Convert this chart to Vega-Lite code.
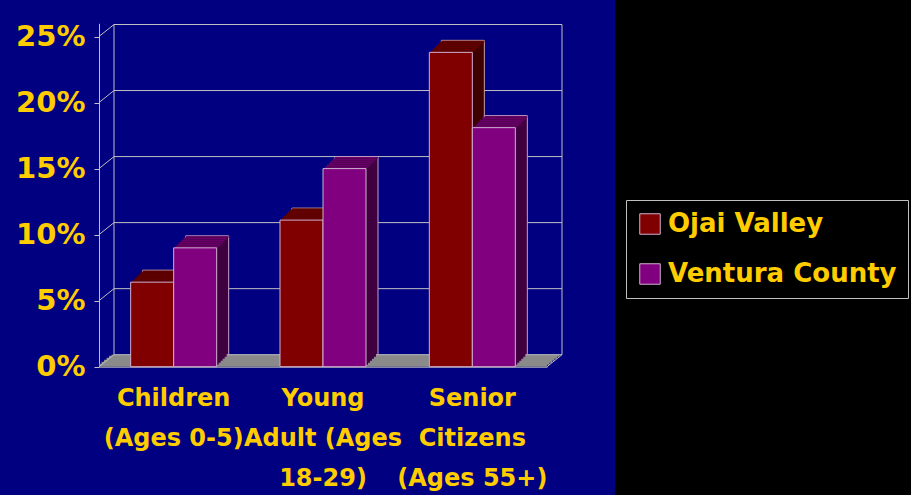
{
  "$schema": "https://vega.github.io/schema/vega-lite/v6.json",
  "width": 615,
  "height": 495,
  "autosize": "none",
  "padding": {"left": 0, "top": 0, "right": 296, "bottom": 0},
  "background": "#000000",
  "config": {"font": "DejaVu Sans", "view": {"fill": "#000080", "stroke": null}},
  "datasets": {
    "bars": [
      {"group": "Children\n(Ages 0-5)", "series": "Ojai Valley", "pct": 0.064},
      {"group": "Children\n(Ages 0-5)", "series": "Ventura County", "pct": 0.090},
      {"group": "Young\nAdult (Ages\n18-29)", "series": "Ojai Valley", "pct": 0.111},
      {"group": "Young\nAdult (Ages\n18-29)", "series": "Ventura County", "pct": 0.150},
      {"group": "Senior\nCitizens\n(Ages 55+)", "series": "Ojai Valley", "pct": 0.238},
      {"group": "Senior\nCitizens\n(Ages 55+)", "series": "Ventura County", "pct": 0.181}
    ],
    "grid": [{"v": 0}, {"v": 0.05}, {"v": 0.1}, {"v": 0.15}, {"v": 0.2}, {"v": 0.25}]
  },
  "layer": [
    {
      "data": {"values": [{}]},
      "layer": [
        {"mark": {"type": "rect", "fill": "#8a8a8a", "xOffset": 0, "x2Offset": 0, "yOffset": 0, "y2Offset": -3},
         "encoding": {"x": {"datum": 0, "type": "quantitative", "scale": {"domain": [0, 3], "range": [99, 547]},
                            "axis": {"orient": "bottom", "offset": -128.3, "values": [0, 1, 2, 3], "labels": false, "domain": false, "ticks": true, "tickSize": 5, "tickColor": "#C0C0C0", "grid": false, "title": null}},
                      "x2": {"datum": 3}, "y": {"datum": 0, "type": "quantitative", "axis": null}, "y2": {"datum": 0}}},
        {"mark": {"type": "rect", "fill": "#8a8a8a", "xOffset": 2.5, "x2Offset": 2.5, "yOffset": -2, "y2Offset": -5},
         "encoding": {"x": {"datum": 0, "type": "quantitative", "axis": null}, "x2": {"datum": 3}, "y": {"datum": 0, "type": "quantitative", "axis": null}, "y2": {"datum": 0}}},
        {"mark": {"type": "rect", "fill": "#8a8a8a", "xOffset": 5, "x2Offset": 5, "yOffset": -4, "y2Offset": -7},
         "encoding": {"x": {"datum": 0, "type": "quantitative", "axis": null}, "x2": {"datum": 3}, "y": {"datum": 0, "type": "quantitative", "axis": null}, "y2": {"datum": 0}}},
        {"mark": {"type": "rect", "fill": "#8a8a8a", "xOffset": 7.5, "x2Offset": 7.5, "yOffset": -6, "y2Offset": -9},
         "encoding": {"x": {"datum": 0, "type": "quantitative", "axis": null}, "x2": {"datum": 3}, "y": {"datum": 0, "type": "quantitative", "axis": null}, "y2": {"datum": 0}}},
        {"mark": {"type": "rect", "fill": "#8a8a8a", "xOffset": 10, "x2Offset": 10, "yOffset": -8, "y2Offset": -11},
         "encoding": {"x": {"datum": 0, "type": "quantitative", "axis": null}, "x2": {"datum": 3}, "y": {"datum": 0, "type": "quantitative", "axis": null}, "y2": {"datum": 0}}},
        {"mark": {"type": "rect", "fill": "#8a8a8a", "xOffset": 12.5, "x2Offset": 12.5, "yOffset": -10, "y2Offset": -12},
         "encoding": {"x": {"datum": 0, "type": "quantitative", "axis": null}, "x2": {"datum": 3}, "y": {"datum": 0, "type": "quantitative", "axis": null}, "y2": {"datum": 0}}},
        {"data": {"name": "grid"},
         "mark": {"type": "rule", "color": "#C0C0C0", "strokeWidth": 1, "xOffset": 15, "x2Offset": 15, "yOffset": -12},
         "encoding": {"x": {"datum": 0, "type": "quantitative", "axis": null}, "x2": {"datum": 3}, "y": {"field": "v", "type": "quantitative", "axis": null}}},
        {"data": {"name": "grid"},
         "mark": {"type": "rule", "color": "#C0C0C0", "strokeWidth": 1, "x2Offset": 15, "y2Offset": -12},
         "encoding": {"x": {"datum": 0, "type": "quantitative", "axis": null}, "x2": {"datum": 0}, "y": {"field": "v", "type": "quantitative", "axis": null}, "y2": {"field": "v"}}},
        {"mark": {"type": "rule", "color": "#C0C0C0", "strokeWidth": 1, "xOffset": 15, "yOffset": -12, "y2Offset": -12},
         "encoding": {"x": {"datum": 0, "type": "quantitative", "axis": null}, "y": {"datum": 0, "type": "quantitative", "axis": null}, "y2": {"datum": 0.25}}},
        {"mark": {"type": "rule", "color": "#C0C0C0", "strokeWidth": 1, "xOffset": 15, "yOffset": -12, "y2Offset": -12},
         "encoding": {"x": {"datum": 3, "type": "quantitative", "axis": null}, "y": {"datum": 0, "type": "quantitative", "axis": null}, "y2": {"datum": 0.25}}},
        {"mark": {"type": "rule", "color": "#C0C0C0", "strokeWidth": 1, "x2Offset": 15, "y2Offset": -12},
         "encoding": {"x": {"datum": 3, "type": "quantitative", "axis": null}, "x2": {"datum": 3}, "y": {"datum": 0, "type": "quantitative", "axis": null}, "y2": {"datum": 0}}}
      ]
    },
    {
      "data": {"name": "bars"},
      "encoding": {
        "x": {"field": "group", "type": "nominal", "sort": null,
              "scale": {"range": [99, 547], "paddingInner": 0, "paddingOuter": 0},
              "axis": {"orient": "bottom", "offset": -128.3, "ticks": false, "domain": true, "domainColor": "#C0C0C0", "grid": false, "title": null,
                       "labelExpr": "split(datum.label, '\\n')", "labelFontSize": 24, "labelFontWeight": "bold", "labelColor": "#FFCC00",
                       "labelLineHeight": 40, "labelPadding": 20, "labelAngle": 0, "labelOverlap": false, "labelLimit": 400}},
        "y": {"field": "pct", "type": "quantitative",
              "scale": {"domain": [0, 0.25], "range": [366.7, 23.3]},
              "axis": {"orient": "left", "offset": -99, "values": [0, 0.05, 0.1, 0.15, 0.2, 0.25], "format": ".0%", "tickSize": 5,
                       "tickColor": "#C0C0C0", "domainColor": "#C0C0C0", "labelFontSize": 29, "labelFontWeight": "bold",
                       "labelColor": "#FFCC00", "labelPadding": 9, "grid": false, "title": null}}
      },
      "layer": [
        {"transform": [{"filter": "datum.series === 'Ojai Valley'"}], "mark": {"type": "bar", "width": 43, "fill": "#400000", "stroke": "#C8A0A0", "strokeWidth": 1, "xOffset": -9.5, "yOffset": -12, "y2Offset": -12}, "encoding": {"y2": {"datum": 0}}},
        {"transform": [{"filter": "datum.series === 'Ojai Valley'"}], "mark": {"type": "bar", "width": 43, "fill": "#600000", "xOffset": -9.5, "yOffset": -11.5, "y2Offset": -10}, "encoding": {"y2": {"field": "pct"}}},
        {"transform": [{"filter": "datum.series === 'Ojai Valley'"}], "mark": {"type": "bar", "width": 43, "fill": "#400000", "xOffset": -11.5, "yOffset": -10, "y2Offset": -10}, "encoding": {"y2": {"datum": 0}}},
        {"transform": [{"filter": "datum.series === 'Ojai Valley'"}], "mark": {"type": "bar", "width": 43, "fill": "#600000", "xOffset": -11.5, "yOffset": -10, "y2Offset": -8}, "encoding": {"y2": {"field": "pct"}}},
        {"transform": [{"filter": "datum.series === 'Ojai Valley'"}], "mark": {"type": "bar", "width": 43, "fill": "#400000", "xOffset": -13.5, "yOffset": -8, "y2Offset": -8}, "encoding": {"y2": {"datum": 0}}},
        {"transform": [{"filter": "datum.series === 'Ojai Valley'"}], "mark": {"type": "bar", "width": 43, "fill": "#600000", "xOffset": -13.5, "yOffset": -8, "y2Offset": -6}, "encoding": {"y2": {"field": "pct"}}},
        {"transform": [{"filter": "datum.series === 'Ojai Valley'"}], "mark": {"type": "bar", "width": 43, "fill": "#400000", "xOffset": -15.5, "yOffset": -6, "y2Offset": -6}, "encoding": {"y2": {"datum": 0}}},
        {"transform": [{"filter": "datum.series === 'Ojai Valley'"}], "mark": {"type": "bar", "width": 43, "fill": "#600000", "xOffset": -15.5, "yOffset": -6, "y2Offset": -4}, "encoding": {"y2": {"field": "pct"}}},
        {"transform": [{"filter": "datum.series === 'Ojai Valley'"}], "mark": {"type": "bar", "width": 43, "fill": "#400000", "xOffset": -17.5, "yOffset": -4, "y2Offset": -4}, "encoding": {"y2": {"datum": 0}}},
        {"transform": [{"filter": "datum.series === 'Ojai Valley'"}], "mark": {"type": "bar", "width": 43, "fill": "#600000", "xOffset": -17.5, "yOffset": -4, "y2Offset": -2}, "encoding": {"y2": {"field": "pct"}}},
        {"transform": [{"filter": "datum.series === 'Ojai Valley'"}], "mark": {"type": "bar", "width": 43, "fill": "#400000", "xOffset": -19.5, "yOffset": -2, "y2Offset": -2}, "encoding": {"y2": {"datum": 0}}},
        {"transform": [{"filter": "datum.series === 'Ojai Valley'"}], "mark": {"type": "bar", "width": 43, "fill": "#600000", "xOffset": -19.5, "yOffset": -2, "y2Offset": 0}, "encoding": {"y2": {"field": "pct"}}},
        {"transform": [{"filter": "datum.series === 'Ojai Valley'"}], "mark": {"type": "bar", "width": 43, "stroke": "#D0B0D0", "strokeWidth": 1, "xOffset": -21.5},
         "encoding": {"y2": {"datum": 0},
                      "color": {"field": "series", "type": "nominal", "scale": {"domain": ["Ojai Valley", "Ventura County"], "range": ["#800000", "#800080"]},
                                "legend": {"orient": "none", "legendX": 626, "legendY": 200, "title": null, "fillColor": "#000000", "strokeColor": "#C0C0C0",
                                           "padding": 11, "symbolType": "square", "symbolSize": 420, "symbolStrokeColor": "#D0B0D0", "symbolStrokeWidth": 1,
                                           "symbolOpacity": 1, "labelFontSize": 26, "labelFontWeight": "bold", "labelColor": "#FFCC00", "labelOffset": 5,
                                           "labelLimit": 400, "rowPadding": 24}}}},
        {"transform": [{"filter": "datum.series === 'Ventura County'"}], "mark": {"type": "bar", "width": 43, "fill": "#400040", "stroke": "#C8A0C8", "strokeWidth": 1, "xOffset": 33.5, "yOffset": -12, "y2Offset": -12}, "encoding": {"y2": {"datum": 0}}},
        {"transform": [{"filter": "datum.series === 'Ventura County'"}], "mark": {"type": "bar", "width": 43, "fill": "#660066", "xOffset": 33.5, "yOffset": -11.5, "y2Offset": -10}, "encoding": {"y2": {"field": "pct"}}},
        {"transform": [{"filter": "datum.series === 'Ventura County'"}], "mark": {"type": "bar", "width": 43, "fill": "#400040", "xOffset": 31.5, "yOffset": -10, "y2Offset": -10}, "encoding": {"y2": {"datum": 0}}},
        {"transform": [{"filter": "datum.series === 'Ventura County'"}], "mark": {"type": "bar", "width": 43, "fill": "#660066", "xOffset": 31.5, "yOffset": -10, "y2Offset": -8}, "encoding": {"y2": {"field": "pct"}}},
        {"transform": [{"filter": "datum.series === 'Ventura County'"}], "mark": {"type": "bar", "width": 43, "fill": "#400040", "xOffset": 29.5, "yOffset": -8, "y2Offset": -8}, "encoding": {"y2": {"datum": 0}}},
        {"transform": [{"filter": "datum.series === 'Ventura County'"}], "mark": {"type": "bar", "width": 43, "fill": "#660066", "xOffset": 29.5, "yOffset": -8, "y2Offset": -6}, "encoding": {"y2": {"field": "pct"}}},
        {"transform": [{"filter": "datum.series === 'Ventura County'"}], "mark": {"type": "bar", "width": 43, "fill": "#400040", "xOffset": 27.5, "yOffset": -6, "y2Offset": -6}, "encoding": {"y2": {"datum": 0}}},
        {"transform": [{"filter": "datum.series === 'Ventura County'"}], "mark": {"type": "bar", "width": 43, "fill": "#660066", "xOffset": 27.5, "yOffset": -6, "y2Offset": -4}, "encoding": {"y2": {"field": "pct"}}},
        {"transform": [{"filter": "datum.series === 'Ventura County'"}], "mark": {"type": "bar", "width": 43, "fill": "#400040", "xOffset": 25.5, "yOffset": -4, "y2Offset": -4}, "encoding": {"y2": {"datum": 0}}},
        {"transform": [{"filter": "datum.series === 'Ventura County'"}], "mark": {"type": "bar", "width": 43, "fill": "#660066", "xOffset": 25.5, "yOffset": -4, "y2Offset": -2}, "encoding": {"y2": {"field": "pct"}}},
        {"transform": [{"filter": "datum.series === 'Ventura County'"}], "mark": {"type": "bar", "width": 43, "fill": "#400040", "xOffset": 23.5, "yOffset": -2, "y2Offset": -2}, "encoding": {"y2": {"datum": 0}}},
        {"transform": [{"filter": "datum.series === 'Ventura County'"}], "mark": {"type": "bar", "width": 43, "fill": "#660066", "xOffset": 23.5, "yOffset": -2, "y2Offset": 0}, "encoding": {"y2": {"field": "pct"}}},
        {"transform": [{"filter": "datum.series === 'Ventura County'"}], "mark": {"type": "bar", "width": 43, "stroke": "#D0B0D0", "strokeWidth": 1, "xOffset": 21.5},
         "encoding": {"y2": {"datum": 0},
                      "color": {"field": "series", "type": "nominal", "scale": {"domain": ["Ojai Valley", "Ventura County"], "range": ["#800000", "#800080"]},
                                "legend": {"orient": "none", "legendX": 626, "legendY": 200, "title": null, "fillColor": "#000000", "strokeColor": "#C0C0C0",
                                           "padding": 11, "symbolType": "square", "symbolSize": 420, "symbolStrokeColor": "#D0B0D0", "symbolStrokeWidth": 1,
                                           "symbolOpacity": 1, "labelFontSize": 26, "labelFontWeight": "bold", "labelColor": "#FFCC00", "labelOffset": 5,
                                           "labelLimit": 400, "rowPadding": 24}}}}
      ]
    }
  ],
  "resolve": {"scale": {"x": "independent"}, "axis": {"x": "independent", "y": "independent"}}
}
